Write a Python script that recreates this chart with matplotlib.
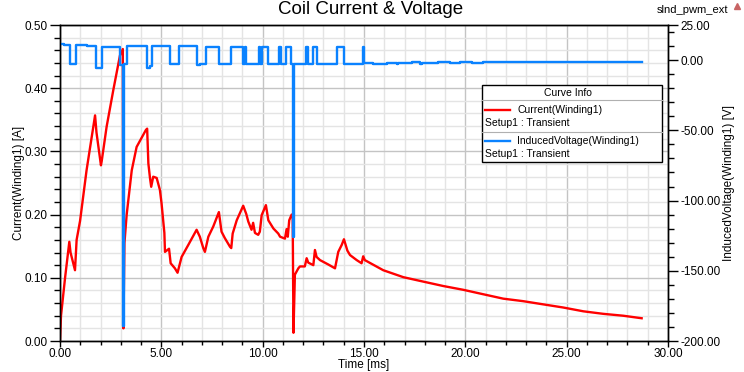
import numpy as np
import matplotlib.pyplot as plt
from matplotlib.lines import Line2D
from matplotlib.patches import Rectangle
from matplotlib.ticker import MultipleLocator, FixedLocator

plt.rcParams['font.family'] = ['Liberation Sans', 'DejaVu Sans']

# current (left axis)
t_cur = [0.0, 0.05, 0.25, 0.46, 0.52, 0.74, 0.82, 0.99, 1.31, 1.73,
         1.80, 2.02, 2.06, 2.30, 2.63, 2.96, 3.10, 3.13, 3.18, 3.29,
         3.54, 3.78, 4.24, 4.30, 4.36, 4.44, 4.50, 4.60, 4.77, 4.93,
         5.01, 5.15, 5.18, 5.38, 5.46, 5.67, 5.80, 6.00, 6.33, 6.74,
         6.90, 7.07, 7.15, 7.32, 7.56, 7.84, 7.97, 8.13, 8.39, 8.45,
         8.52, 8.72, 9.04, 9.19, 9.29, 9.45, 9.53, 9.62, 9.78, 9.86,
         9.95, 10.16, 10.28, 10.53, 10.77, 10.86, 11.10, 11.18, 11.24, 11.31,
         11.43, 11.48, 11.52, 11.59, 11.76, 11.84, 12.08, 12.17, 12.25, 12.50,
         12.58, 12.66, 12.83, 13.24, 13.57, 13.73, 13.90, 14.01, 14.18, 14.31,
         14.64, 14.88, 14.96, 15.04, 15.95, 16.94, 17.92, 18.91, 19.90, 20.88,
         21.87, 22.86, 23.84, 24.83, 25.82, 26.80, 27.79, 28.70]
current = [0.0, 0.04, 0.10, 0.157, 0.14, 0.112, 0.16, 0.19, 0.27, 0.357,
           0.33, 0.278, 0.285, 0.339, 0.397, 0.452, 0.462, 0.02, 0.155, 0.20,
           0.27, 0.307, 0.334, 0.336, 0.281, 0.258, 0.244, 0.26, 0.258, 0.239,
           0.218, 0.171, 0.141, 0.146, 0.123, 0.115, 0.108, 0.133, 0.152, 0.176,
           0.165, 0.147, 0.141, 0.165, 0.181, 0.204, 0.173, 0.163, 0.149, 0.147,
           0.170, 0.191, 0.214, 0.201, 0.189, 0.176, 0.187, 0.171, 0.168, 0.173,
           0.199, 0.215, 0.191, 0.178, 0.170, 0.165, 0.162, 0.177, 0.165, 0.191,
           0.200, 0.20, 0.013, 0.105, 0.115, 0.118, 0.118, 0.131, 0.124, 0.12,
           0.144, 0.133, 0.128, 0.121, 0.115, 0.141, 0.152, 0.161, 0.143, 0.136,
           0.128, 0.123, 0.134, 0.128, 0.112, 0.101, 0.094, 0.087, 0.081, 0.074,
           0.067, 0.063, 0.058, 0.053, 0.047, 0.043, 0.040, 0.036]

# induced voltage (right axis), step values
t_volt = [0.00, 0.20, 0.49, 0.77, 1.32, 1.76, 2.05, 2.55, 2.96, 3.10,
          3.14, 3.29, 4.28, 4.44, 4.52, 5.43, 5.87, 6.74, 6.90, 7.20,
          7.84, 8.45, 9.03, 9.12, 9.20, 9.80, 9.87, 9.95, 10.24, 10.82,
          10.90, 11.15, 11.40, 11.48, 11.53, 12.14, 12.22, 12.50, 12.66, 13.65,
          14.01, 14.93, 15.00, 15.46, 16.12, 16.61, 16.69, 17.35, 17.76, 17.84,
          18.66, 19.24, 19.73, 20.31, 20.88, 21.87, 28.70]
voltage = [11.3, 10.6, -2.8, 10.6, 9.8, -5.8, 9.5, 9.0, -3.3, -189.0,
           -2.5, 10.1, -5.8, -4.5, 10.2, -2.8, 10.2, -3.3, -2.8, 9.6,
           -2.8, 9.5, -2.8, 9.5, -2.8, 9.5, -2.8, 9.5, -2.8, 9.0,
           -2.8, 9.5, -2.8, -126.0, -2.8, 9.5, -2.8, 9.5, -2.8, 9.5,
           -2.8, 9.5, -2.4, -2.9, -1.9, -2.8, -1.9, -1.2, -2.8, -1.9,
           -1.2, -1.9, -1.5, -1.9, -1.5, -1.7, -1.7]

left_ticks = [0.0, 0.1, 0.2, 0.3, 0.4, 0.5]
right_ticks = [-200, -150, -100, -50, 0, 25]
time_ticks = [0, 5, 10, 15, 20, 25, 30]

red = '#ff0000'
blue = '#0a82ff'
W, H = 744, 372


def px(x, y):
    return x / W, 1 - y / H


fig = plt.figure(figsize=(7.44, 3.72), dpi=100)
ax = fig.add_axes([60 / W, 1 - 341 / H, 608 / W, 316 / H])
ax2 = ax.twinx()

ax.plot(t_cur, current, color=red, lw=1.7)
ax2.plot(t_volt, voltage, color=blue, lw=1.7, drawstyle='steps-post')

ax.set_xlim(0, 30)
ax.set_ylim(0, 0.5)
ax2.set_ylim(-200, 25)

ax.xaxis.set_major_locator(FixedLocator(time_ticks))
ax.xaxis.set_minor_locator(MultipleLocator(1))
ax.yaxis.set_major_locator(FixedLocator(left_ticks))
ax.yaxis.set_minor_locator(MultipleLocator(0.02))
ax2.yaxis.set_major_locator(FixedLocator(right_ticks))
ax2.yaxis.set_minor_locator(MultipleLocator(10))

ax.set_xticklabels(['%.2f' % v for v in time_ticks])
ax.set_yticklabels(['%.2f' % v for v in left_ticks])
ax2.set_yticklabels(['%.2f' % v for v in right_ticks])

ax.grid(which='major', color='#c4c4c4', lw=1.0)
ax.grid(which='minor', color='#e4e4e4', lw=1.0)
ax.set_axisbelow(True)

for a in (ax, ax2):
    a.tick_params(which='major', length=7, width=1, labelsize=8.5, pad=2)
    a.tick_params(which='minor', length=4.5, width=1)
    for s in a.spines.values():
        s.set_color('black')
        s.set_linewidth(1)
ax.tick_params(axis='x', which='major', length=4, pad=1)
ax.tick_params(axis='x', which='minor', length=3)

ax.set_xlabel('Time [ms]', fontsize=8.5)
ax.set_ylabel('Current(Winding1) [A]', fontsize=8.5)
ax2.set_ylabel('InducedVoltage(Winding1) [V]', fontsize=8.5)
ax.xaxis.set_label_coords(0.5, -(359 - 341) / 316)
ax.yaxis.set_label_coords(-41 / 608, 0.5)
ax2.yaxis.set_label_coords(1 + 61 / 608, 0.5)
ax2.yaxis.label.set_va('center')
ax.yaxis.label.set_va('center')

fig.text(*px(371, 10), 'Coil Current & Voltage', fontsize=13.5, ha='center', va='center')
fig.text(*px(728, 10), 'slnd_pwm_ext', fontsize=8, ha='right', va='center')
fig.add_artist(Line2D([px(737, 6)[0]], [px(737, 6)[1]], marker='^', ms=5,
                      color='#c86464', transform=fig.transFigure))

# curve info box
x0, y0 = px(482, 162)
x1, y1 = px(662, 85)
fig.add_artist(Rectangle((x0, y0), x1 - x0, y1 - y0, transform=fig.transFigure,
                         facecolor='white', edgecolor='black', lw=1, zorder=5))
for yy in (100, 131.5):
    a, b = px(482, yy)
    c, d = px(662, yy)
    fig.add_artist(Line2D([a, c], [b, d], color='#b0b0b0', lw=0.8,
                          transform=fig.transFigure, zorder=6))
fig.text(*px(568, 93), 'Curve Info', fontsize=7.5, ha='center', va='center', zorder=7)
entries = [('Current(Winding1)', red, 110), ('InducedVoltage(Winding1)', blue, 141)]
for label, col, yy in entries:
    a, b = px(485, yy)
    c, d = px(510, yy)
    fig.add_artist(Line2D([a, c], [b, d], color=col, lw=1.7,
                          transform=fig.transFigure, zorder=7))
    fig.text(*px(517, yy), label, fontsize=7.5, ha='left', va='center', zorder=7)
    fig.text(*px(485, yy + 13), 'Setup1 : Transient', fontsize=7.5,
             ha='left', va='center', zorder=7)

fig.savefig('out.png', dpi=100)
